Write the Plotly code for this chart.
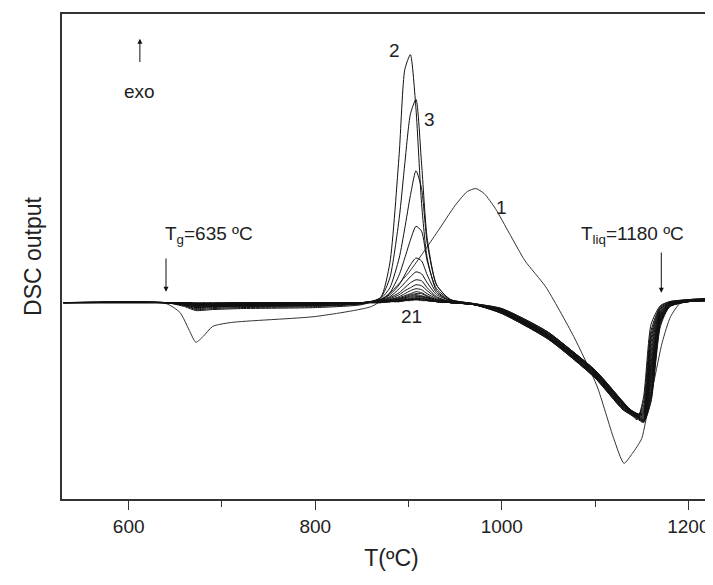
import plotly.graph_objects as go

# shared temperature grid for curves 2-21
T_grid = [530, 640, 660, 672, 690, 720, 800, 850, 870, 880, 890, 896, 902, 908, 914,
          920, 930, 945, 970, 1000, 1050, 1100, 1130, 1145, 1152, 1160, 1170, 1180, 1200, 1235]

curves = {
    2: [0, 0, -4, -8, -7, -6, -5, -2, 5, 40, 150, 235, 250, 195, 100, 45, 12, 2, -1, -6, -30, -70, -102, -118, -95, -22, -3, 1, 3, 5],
    3: [0, 0, -3, -7, -6, -5, -4, -1, 5, 25, 85, 140, 190, 205, 140, 65, 18, 3, -1, -6, -30, -69, -101, -116, -100, -28, -4, 1, 3, 5],
    4: [0, 0, -3, -6, -5, -4, -3, -1, 4, 15, 45, 75, 108, 133, 115, 60, 18, 3, -1, -7, -31, -68, -100, -115, -104, -32, -5, 0, 3, 4],
    5: [0, 0, -2, -5, -4, -4, -3, -1, 3, 10, 28, 45, 63, 77, 72, 42, 14, 3, -1, -7, -31, -68, -100, -114, -107, -36, -6, 0, 2, 4],
    6: [0, 0, -2, -5, -4, -3, -3, -1, 3, 8, 18, 28, 38, 45, 42, 28, 10, 2, -2, -7, -32, -69, -101, -114, -109, -40, -7, 0, 2, 4],
    7: [0, 0, -2, -4, -4, -3, -2, 0, 3, 6, 14, 20, 26, 31, 29, 20, 8, 2, -2, -7, -32, -69, -101, -113, -110, -45, -8, 0, 2, 4],
    8: [0, 0, -2, -4, -3, -3, -2, 0, 2, 5, 10, 15, 20, 23, 22, 15, 6, 1, -2, -8, -33, -70, -102, -113, -111, -50, -9, -1, 2, 4],
    9: [0, 0, -1, -3, -3, -2, -2, 0, 2, 4, 8, 12, 15, 18, 17, 12, 5, 1, -2, -8, -33, -70, -102, -112, -112, -55, -10, -1, 2, 4],
    10: [0, 0, -1, -3, -3, -2, -1, 0, 2, 3, 6, 9, 12, 14, 13, 9, 4, 1, -2, -8, -33, -71, -103, -112, -113, -60, -11, -1, 2, 3],
    11: [0, 0, -1, -3, -2, -2, -1, 0, 1, 3, 5, 7, 9, 11, 10, 7, 3, 1, -2, -8, -34, -71, -103, -112, -114, -64, -12, -1, 2, 3],
    12: [0, 0, -1, -2, -2, -2, -1, 0, 1, 2, 4, 6, 8, 9, 9, 6, 3, 0, -2, -9, -34, -72, -104, -112, -115, -68, -13, -2, 2, 3],
    13: [0, 0, -1, -2, -2, -1, -1, 0, 1, 2, 4, 5, 7, 8, 7, 5, 2, 0, -2, -9, -34, -72, -104, -113, -116, -72, -14, -2, 2, 3],
    14: [0, 0, -1, -2, -2, -1, -1, 0, 1, 2, 3, 5, 6, 7, 6, 5, 2, 0, -2, -9, -35, -73, -105, -113, -117, -76, -15, -2, 1, 3],
    15: [0, 0, -1, -2, -1, -1, -1, 0, 1, 2, 3, 4, 5, 6, 6, 4, 2, 0, -2, -9, -35, -73, -105, -114, -118, -80, -16, -2, 1, 3],
    16: [0, 0, 0, -1, -1, -1, 0, 0, 1, 1, 2, 3, 4, 5, 5, 3, 1, 0, -2, -10, -35, -74, -106, -114, -118, -84, -17, -3, 1, 3],
    17: [0, 0, 0, -1, -1, -1, 0, 0, 1, 1, 2, 3, 4, 4, 4, 3, 1, 0, -2, -10, -36, -74, -106, -115, -119, -88, -18, -3, 1, 3],
    18: [0, 0, 0, -1, -1, -1, 0, 0, 1, 1, 2, 3, 3, 4, 4, 3, 1, 0, -2, -10, -36, -75, -107, -115, -119, -92, -19, -3, 1, 2],
    19: [0, 0, 0, -1, -1, 0, 0, 0, 0, 1, 2, 2, 3, 3, 3, 2, 1, 0, -2, -10, -36, -75, -107, -116, -120, -95, -20, -4, 1, 2],
    20: [0, 0, 0, -1, -1, 0, 0, 0, 0, 1, 1, 2, 3, 3, 3, 2, 1, 0, -2, -11, -37, -76, -108, -116, -120, -98, -22, -4, 1, 2],
    21: [0, 0, 0, 0, 0, 0, 0, 0, 0, 1, 1, 2, 2, 3, 2, 2, 1, 0, -2, -11, -37, -76, -108, -117, -121, -100, -24, -4, 1, 2],
}

# first run has its own grid
T_run1 = [530, 640, 655, 665, 672, 680, 690, 710, 800, 860, 875, 900, 930, 950, 963, 972, 981,
          993, 1008, 1025, 1047, 1077, 1102, 1120, 1131, 1140, 1150, 1158, 1163, 1172, 1181, 1192, 1210, 1235]
y_run1 = [0, -1, -10, -28, -40, -34, -24, -20, -14, -4, 5, 30, 70, 98, 112, 115, 110,
          95, 70, 42, 16, -34, -84, -137, -162, -152, -137, -100, -80, -40, -14, 0, 2, 4]

fig = go.Figure()
fig.add_trace(go.Scatter(x=T_run1, y=y_run1, mode="lines", line=dict(color="#333", width=1, shape="spline", smoothing=0.6)))
for k, ys in curves.items():
    fig.add_trace(go.Scatter(x=T_grid, y=ys, mode="lines", line=dict(color="#111", width=1, shape="spline", smoothing=0.6)))

font = dict(family="Liberation Sans, Arial", size=19, color="#222")
labels = [("2", 885, 254), ("3", 923, 185), ("1", 1000, 96), ("21", 903, -14), ("exo", 612, 213)]
for txt, x, y in labels:
    fig.add_annotation(x=x, y=y, text=txt, showarrow=False, font=font)

# arrows
for x, y0, y1 in [(612, 241, 266), (640, 46, 11), (1171, 52, 10)]:
    fig.add_annotation(x=x, y=y1, ax=x, ay=y0, xref="x", yref="y", axref="x", ayref="y",
                       text="", showarrow=True, arrowhead=2, arrowsize=1, arrowwidth=1, arrowcolor="#111")
fig.add_annotation(x=637, y=68, text="T<sub>g</sub>=635 ºC", showarrow=False, xanchor="left", font=font)
fig.add_annotation(x=1083, y=68, text="T<sub>liq</sub>=1180 ºC", showarrow=False, xanchor="left", font=font)

fig.update_layout(
    width=713, height=585, showlegend=False,
    plot_bgcolor="white", paper_bgcolor="white",
    margin=dict(l=54, r=0, t=6, b=94),
    font=font,
)
fig.update_xaxes(range=[528.5, 1235], tickvals=[600, 800, 1000, 1200], ticks="outside", ticklen=9,
                 tickcolor="#333", showline=True, linecolor="#333", linewidth=1.5, mirror=True,
                 showgrid=False, zeroline=False, automargin=False, title=dict(text="T(ºC)", standoff=14),
                 minor=dict(tickvals=[700, 900, 1100], ticks="outside", ticklen=6, tickcolor="#333"))
fig.update_yaxes(range=[-198, 291], showticklabels=False, ticks="", showline=True, linecolor="#333",
                 linewidth=1.5, showgrid=False, zeroline=False, automargin=False,
                 title=dict(text="DSC output", standoff=12))

fig.write_html("out.html")
